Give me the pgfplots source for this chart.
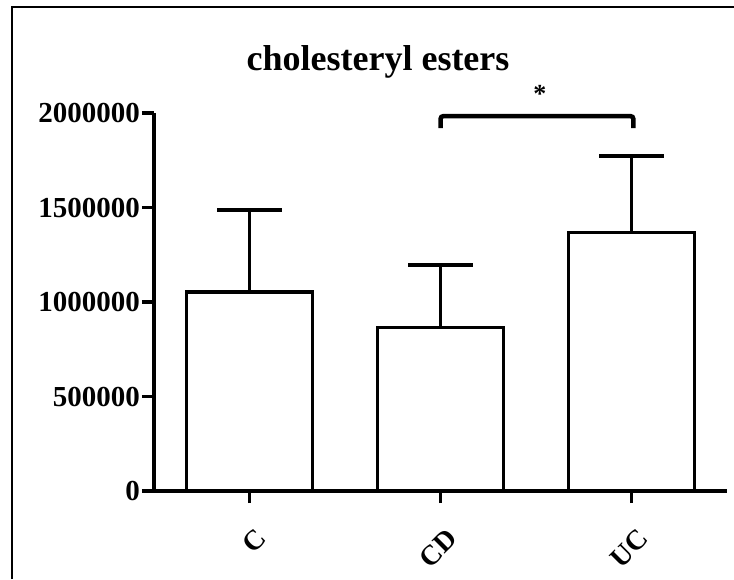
\documentclass[border=0pt]{standalone}
\usepackage{pgfplots}
\pgfplotsset{compat=1.18}
\usepackage{fontspec}
\setmainfont{Liberation Serif}
\begin{document}
\begin{tikzpicture}
\path[use as bounding box] (0,0) rectangle (734pt,-579pt);
\draw[line width=2pt] (12pt,-579pt) -- (12pt,-7pt) -- (734pt,-7pt);
\node[anchor=base, font=\bfseries\fontsize{36}{36}\selectfont, inner sep=0pt] at (378pt,-70pt) {cholesteryl esters};
\begin{axis}[
  at={(154pt,-491pt)}, anchor=south west,
  scale only axis, width=573pt, height=378pt,
  xmin=-0.5, xmax=2.5, ymin=0, ymax=2000000,
  clip=false,
  axis lines=left,
  axis line style={-, line width=3.5pt, black},
  xtick={0,1,2}, xticklabels={C,CD,UC},
  ytick={0,500000,1000000,1500000,2000000},
  scaled y ticks=false,
  /pgf/number format/fixed,
  /pgf/number format/1000 sep={},
  /pgf/number format/assume math mode=true,
  tick align=outside,
  major tick length=12pt,
  tick style={line width=3.5pt, black},
  y tick label style={font=\bfseries\fontsize{29}{29}\selectfont, inner sep=2pt},
  x tick label style={rotate=45, anchor=north east, font=\bfseries\fontsize{28}{28}\selectfont, inner sep=2pt, yshift=-19pt, xshift=-11pt},
]
\addplot[ybar, bar width=126pt, fill=white, draw=black, line width=3.5pt,
  error bars/.cd, y dir=plus, y explicit,
  error bar style={line width=3.5pt, black},
  error mark options={rotate=90, mark size=32.5pt, line width=3.5pt, black}]
  coordinates {(0,1053000) +- (0,434000) (1,864000) +- (0,332000) (2,1367000) +- (0,405000)};
\draw[line width=4.5pt, rounded corners=3pt] (axis cs:1,1920000) |- (axis cs:2.01,1984000) -- (axis cs:2.01,1920000);
\node[anchor=base, font=\bfseries\fontsize{26}{26}\selectfont, inner sep=0pt] at (axis cs:1.52,2053000) {*};
\end{axis}
\end{tikzpicture}
\end{document}
